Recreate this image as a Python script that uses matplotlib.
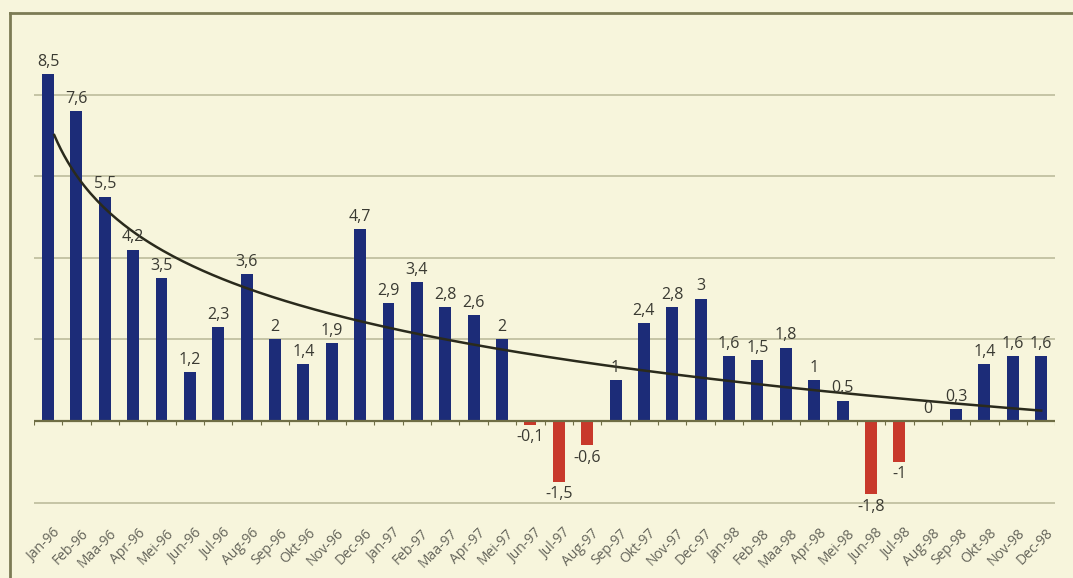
import numpy as np
import matplotlib
matplotlib.use("Agg")
import matplotlib.pyplot as plt
from matplotlib.lines import Line2D

months = ["Jan", "Feb", "Maa", "Apr", "Mei", "Jun", "Jul", "Aug", "Sep", "Okt", "Nov", "Dec"]
years = ["96", "97", "98"]
categories = [f"{m}-{y}" for y in years for m in months]
values = [8.5, 7.6, 5.5, 4.2, 3.5, 1.2, 2.3, 3.6, 2, 1.4, 1.9, 4.7,
          2.9, 3.4, 2.8, 2.6, 2, -0.1, -1.5, -0.6, 1, 2.4, 2.8, 3,
          1.6, 1.5, 1.8, 1, 0.5, -1.8, -1, 0, 0.3, 1.4, 1.6, 1.6]
gridlines = [-2, 2, 4, 6, 8]

BG = "#f7f5dc"
BLUE = "#1c2c78"
RED = "#c8392b"
GRID = "#bdbc9c"
AXIS = "#6f6e45"
TREND = "#2a2a1c"
TXT = "#3a3a32"

plt.rcParams['font.family'] = ['Open Sans', 'DejaVu Sans']

fig = plt.figure(figsize=(10.73, 5.78), dpi=100, facecolor=BG)
W, H = 1073, 578
x0, x1 = 33.8, 1055.4
ytop, ybot = 33.4, 506.7
ax = fig.add_axes([x0 / W, 1 - ybot / H, (x1 - x0) / W, (ybot - ytop) / H])
ax.set_facecolor(BG)

x = np.arange(len(values))
vals = np.array(values)

for g in gridlines:
    ax.axhline(g, color=GRID, lw=1.2, zorder=1)

colors = [BLUE if v >= 0 else RED for v in values]
ax.bar(x, vals, width=0.42, color=colors, zorder=3)

# logarithmic trend line (Excel-style)
t = x + 1
a, b = np.polyfit(np.log(t), vals, 1)
tt = np.linspace(1.22, len(values), 300)
ax.plot(tt - 1, a * np.log(tt) + b, color=TREND, lw=1.8, zorder=4)

# zero axis with tick marks at category boundaries
ax.axhline(0, color=AXIS, lw=1.6, zorder=5)
ax.vlines(np.arange(len(values) + 1) - 0.5, -0.09, 0, color=AXIS, lw=0.8, zorder=5)

def fmt(v):
    return f"{v:g}".replace(".", ",")

for xi, v in zip(x, values):
    if v >= 0:
        ax.annotate(fmt(v), (xi, v), xytext=(0, 3), textcoords="offset points",
                    ha="center", va="bottom", fontsize=11.5, color=TXT, zorder=6)
    else:
        ax.annotate(fmt(v), (xi, v), xytext=(0, -3), textcoords="offset points",
                    ha="center", va="top", fontsize=11.5, color=TXT, zorder=6)

for xi, lab in zip(x, categories):
    ax.text(xi + 0.34, -2.7, lab, rotation=45, rotation_mode="anchor",
            ha="right", va="center", fontsize=10, color="#64645a", clip_on=False)

ax.set_xlim(-0.5, len(values) - 0.5)
ax.set_ylim(-2.1, 9.5)
ax.set_xticks([])
ax.set_yticks([])
for s in ax.spines.values():
    s.set_visible(False)

# outer frame (left and top borders)
fig.add_artist(Line2D([9.5 / W, 9.5 / W], [0, 1 - 13 / H], transform=fig.transFigure,
                      color="#7c7b55", lw=2))
fig.add_artist(Line2D([9.5 / W, 1.0], [1 - 13 / H, 1 - 13 / H], transform=fig.transFigure,
                      color="#7c7b55", lw=2))

fig.savefig("out.png", dpi=100, facecolor=BG)
